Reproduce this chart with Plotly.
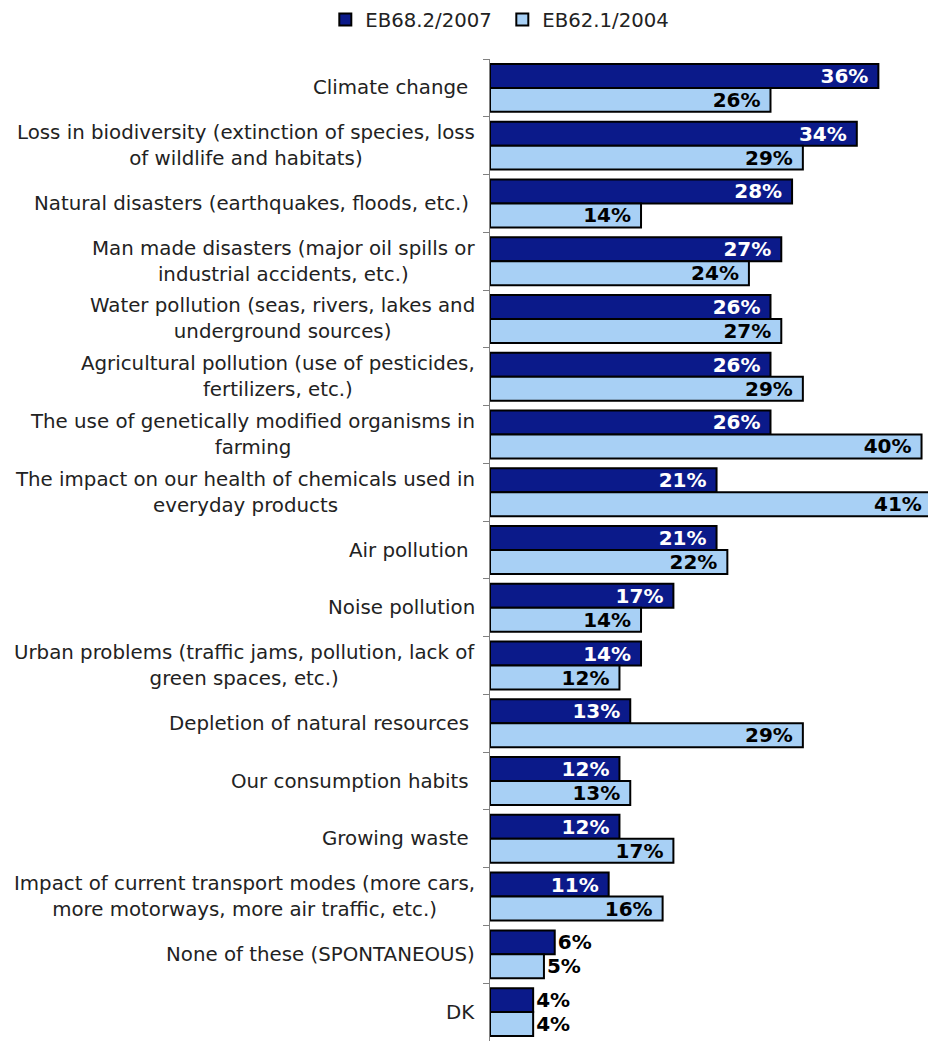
import plotly.graph_objects as go

# Environmental issues mentioned, share of respondents (%)
categories = [
    "Climate change\u00a0",
    "Loss in biodiversity (extinction of species, loss<br>of wildlife and habitats)",
    "Natural disasters (earthquakes, floods, etc.)\u00a0",
    "Man made disasters (major oil spills or<br>industrial accidents, etc.)",
    "Water pollution (seas, rivers, lakes and<br>underground sources)",
    "Agricultural pollution (use of pesticides,<br>fertilizers, etc.)",
    "The use of genetically modified organisms in<br>farming",
    "The impact on our health of chemicals used in<br>everyday products",
    "Air pollution\u00a0",
    "Noise pollution",
    "Urban problems (traffic jams, pollution, lack of<br>green spaces, etc.)",
    "Depletion of natural resources\u00a0",
    "Our consumption habits\u00a0",
    "Growing waste\u00a0",
    "Impact of current transport modes (more cars,<br>more motorways, more air traffic, etc.)",
    "None of these (SPONTANEOUS)",
    "DK",
]
eb_2007 = [36, 34, 28, 27, 26, 26, 26, 21, 21, 17, 14, 13, 12, 12, 11, 6, 4]
eb_2004 = [26, 29, 14, 24, 27, 29, 40, 41, 22, 14, 12, 29, 13, 17, 16, 5, 4]
series_names = ["EB68.2/2007", "EB62.1/2004"]

X_MAX = 40.6
DARK = "#0b1a8a"
LIGHT = "#a8d0f5"
FONT = "DejaVu Sans, Verdana, sans-serif"
LABEL_SIZE = 20


def positions(values, threshold):
    return ["inside" if v >= threshold else "outside" for v in values]


def labels(values, threshold):
    # a non-breaking space keeps inside labels clear of the bar end
    return [f"{v}%\u00a0" if v >= threshold else f"{v}%" for v in values]


def add_series(values, name, color, inside_color, threshold):
    fig.add_trace(go.Bar(
        y=categories, x=values, name=name, orientation="h",
        marker=dict(color=color, line=dict(color="#000000", width=2)),
        text=labels(values, threshold), textposition=positions(values, threshold),
        insidetextanchor="end",
        insidetextfont=dict(family=FONT, size=LABEL_SIZE, color=inside_color, weight="bold"),
        outsidetextfont=dict(family=FONT, size=LABEL_SIZE, color="black", weight="bold"),
        cliponaxis=False,
    ))


fig = go.Figure()
add_series(eb_2007, series_names[0], DARK, "white", 11)
add_series(eb_2004, series_names[1], LIGHT, "black", 12)

# Bars running past the axis end keep their value label at the visible edge
for cat, v in zip(categories, eb_2004):
    if v > X_MAX:
        fig.add_annotation(
            x=v / X_MAX, xref="paper", y=cat, yref="y", xanchor="right",
            xshift=-8, yshift=-12, text=f"{v}%", showarrow=False,
            font=dict(family=FONT, size=LABEL_SIZE, color="black", weight="bold"),
        )

# Category labels drawn as centred multi-line annotations left of the axis
for cat in categories:
    fig.add_annotation(
        x=0, xref="paper", y=cat, yref="y", xanchor="right", xshift=-13,
        text=cat, showarrow=False, align="center",
        font=dict(family=FONT, size=19.8, color="#222222"),
    )

fig.update_layout(
    width=928, height=1041,
    margin=dict(l=490, r=0, t=57, b=0),
    barmode="group", bargap=0.17, bargroupgap=0,
    uniformtext=dict(minsize=LABEL_SIZE, mode="show"),
    plot_bgcolor="white", paper_bgcolor="white",
    font=dict(family=FONT, color="#222222"),
    legend=dict(
        orientation="h", x=-0.376, xanchor="left", y=1.04, yanchor="middle",
        font=dict(family=FONT, size=19.7, color="#222222"), traceorder="normal",
        itemwidth=30, entrywidth=132,
    ),
    xaxis=dict(range=[0, X_MAX], visible=False, fixedrange=True),
    yaxis=dict(
        autorange="reversed", showticklabels=False, ticks="outside",
        tickson="boundaries", ticklen=6, tickcolor="#808080",
        showline=True, linecolor="#808080", linewidth=1, showgrid=False,
    ),
)

fig.write_html("out.html")
